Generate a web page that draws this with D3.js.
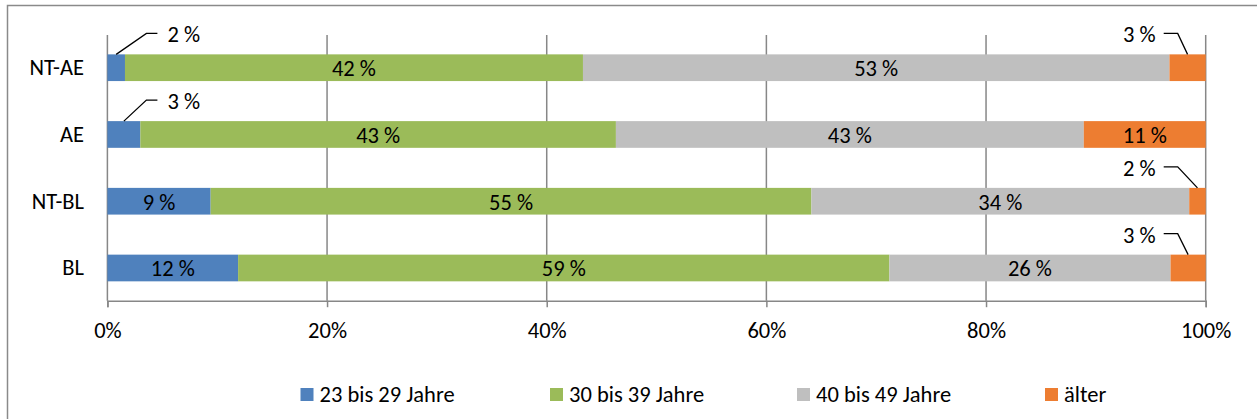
<!DOCTYPE html>
<html><head><meta charset="utf-8">
<script src="https://cdn.jsdelivr.net/npm/d3@7"></script>
<style>
html,body{margin:0;padding:0;background:#fff;}
svg{display:block;font-family:Carlito,Calibri,"Open Sans",sans-serif;}
</style></head>
<body><svg id="c" width="1257" height="419"></svg>
<script>
const categories = ["NT-AE", "AE", "NT-BL", "BL"];
const seriesNames = ["23 bis 29 Jahre", "30 bis 39 Jahre", "40 bis 49 Jahre", "älter"];
const s23to29 = [1.6, 3.0, 9.4, 11.9];
const s30to39 = [41.7, 43.3, 54.7, 59.3];
const s40to49 = [53.4, 42.6, 34.4, 25.6];
const sOlder  = [3.3, 11.1, 1.5, 3.2];
const labels23 = ["2 %", "3 %", "9 %", "12 %"];
const labels30 = ["42 %", "43 %", "55 %", "59 %"];
const labels40 = ["53 %", "43 %", "34 %", "26 %"];
const labelsOlder = ["3 %", "11 %", "2 %", "3 %"];
const tickValues = [0, 0.2, 0.4, 0.6, 0.8, 1.0];
const tickLabels = ["0%", "20%", "40%", "60%", "80%", "100%"];
const colors = ["#4F81BD", "#9BBB59", "#BFBFBF", "#ED7D31"];

const series = [s23to29, s30to39, s40to49, sOlder];
const labelSets = [labels23, labels30, labels40, labelsOlder];

const svg = d3.select("#c");
const FS = 22.5;
const AXIS_Y = 300.7;

// outer frame
svg.append("rect").attr("x", 7.5).attr("y", 5.5).attr("width", 1400).attr("height", 600)
  .attr("fill", "none").attr("stroke", "#8a8a8a").attr("stroke-width", 1.5);

const x = d3.scaleLinear().domain([0, 1]).range([107.4, 1205.7]);
const y = d3.scaleBand().domain(categories).range([35, AXIS_Y]).paddingInner(0.6).paddingOuter(0.29);

// gridlines
svg.append("g").selectAll("line").data(tickValues).join("line")
  .attr("x1", d => x(d)).attr("x2", d => x(d))
  .attr("y1", 35).attr("y2", AXIS_Y)
  .attr("stroke", "#878787").attr("stroke-width", 1.5);

// stacked data
const rows = categories.map((c, i) => {
  let acc = 0;
  return series.map((s, k) => {
    const v = s[i] / 100;
    const seg = {cat: c, k, x0: acc, x1: acc + v, label: labelSets[k][i]};
    acc += v;
    return seg;
  });
});
const segs = rows.flat();

svg.append("g").selectAll("rect").data(segs).join("rect")
  .attr("x", d => x(d.x0)).attr("width", d => x(d.x1) - x(d.x0))
  .attr("y", d => y(d.cat)).attr("height", y.bandwidth())
  .attr("fill", d => colors[d.k]);

// x axis
const xAxis = d3.axisBottom(x).tickValues(tickValues)
  .tickFormat((d, i) => tickLabels[i]).tickSize(6.5).tickPadding(14.6);
const gx = svg.append("g").attr("transform", `translate(0,${AXIS_Y})`).call(xAxis);
gx.select(".domain").attr("stroke", "#878787").attr("stroke-width", 1.5);
gx.selectAll(".tick line").attr("stroke", "#878787").attr("stroke-width", 1.5);
gx.selectAll(".tick text").attr("font-size", FS).attr("fill", "#000")
  .attr("font-family", "Carlito,Calibri,'Open Sans',sans-serif");

// category labels
svg.append("g").selectAll("text").data(categories).join("text")
  .attr("x", 84).attr("y", d => y(d) + y.bandwidth() / 2)
  .attr("text-anchor", "end").attr("dominant-baseline", "central")
  .attr("font-size", FS).attr("fill", "#000").text(d => d);

// labels
const inside = segs.filter(d => (d.x1 - d.x0) > 0.05);
svg.append("g").selectAll("text").data(inside).join("text")
  .attr("x", d => (x(d.x0) + x(d.x1)) / 2)
  .attr("y", d => y(d.cat) + y.bandwidth() / 2 + 1)
  .attr("text-anchor", "middle").attr("dominant-baseline", "central")
  .attr("font-size", FS).attr("fill", "#000").text(d => d.label);

const outside = segs.filter(d => (d.x1 - d.x0) <= 0.05);
const og = svg.append("g");
outside.forEach(d => {
  const cx = (x(d.x0) + x(d.x1)) / 2;
  const top = y(d.cat);
  const ey = top - 21;
  let pts, tx, anchor;
  if (d.k === 0) {
    pts = [[cx, top], [x(0) + 39, ey], [x(0) + 50, ey]];
    tx = x(0) + 60; anchor = "start";
  } else {
    pts = [[cx, top], [x(1) - 28, ey], [x(1) - 42, ey]];
    tx = x(1) - 50; anchor = "end";
  }
  og.append("path").attr("d", d3.line()(pts)).attr("fill", "none")
    .attr("stroke", "#000").attr("stroke-width", 1.3);
  og.append("text").attr("x", tx).attr("y", ey + 1.5)
    .attr("text-anchor", anchor).attr("dominant-baseline", "central")
    .attr("font-size", FS).attr("fill", "#000").text(d.label);
});

// legend
const legendX = [300.5, 550, 797, 1045];
const lg = svg.append("g").selectAll("g").data(seriesNames).join("g")
  .attr("transform", (d, i) => `translate(${legendX[i]},0)`);
lg.append("rect").attr("x", 0).attr("y", 388).attr("width", 13).attr("height", 13)
  .attr("fill", (d, i) => colors[i]);
lg.append("text").attr("x", 19).attr("y", 394.5)
  .attr("dominant-baseline", "central").attr("font-size", FS).attr("fill", "#000")
  .text(d => d);
</script></body></html>
